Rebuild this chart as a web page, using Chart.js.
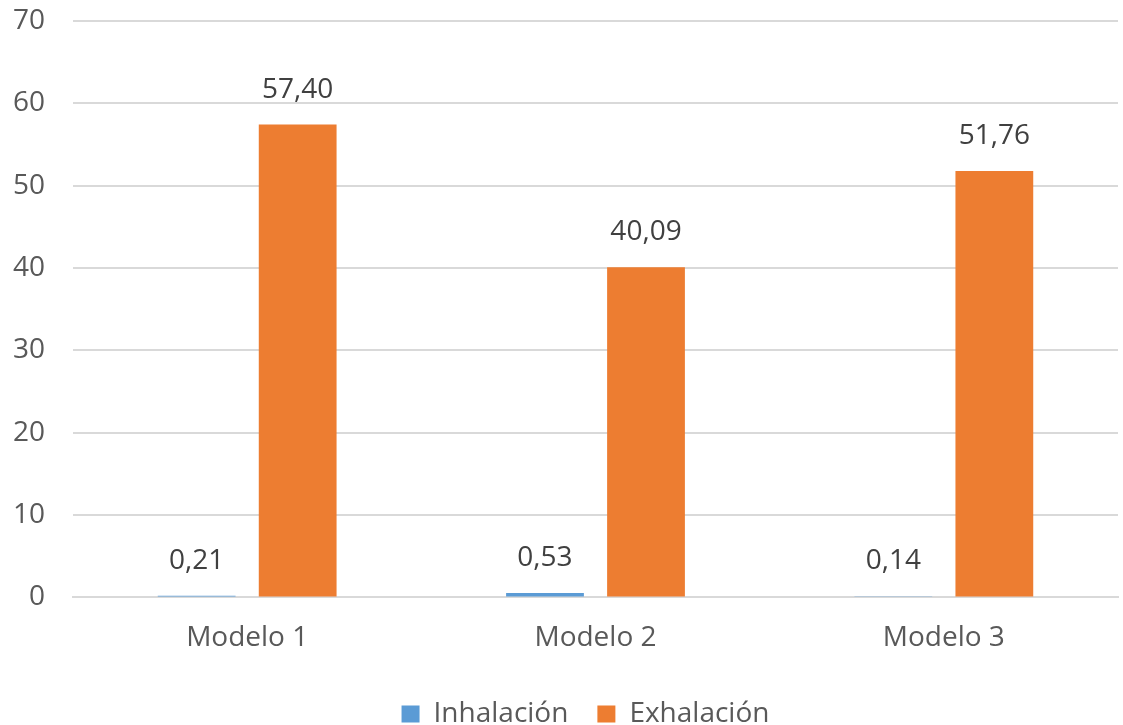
<!DOCTYPE html>
<html>
<head>
<meta charset="utf-8">
<script src="https://cdn.jsdelivr.net/npm/chart.js@4"></script>
<style>
  html, body { margin: 0; padding: 0; background: #fff; overflow: hidden; }
  /* lienzo algo más alto y subido para que la línea del 70 quede arriba */
  #wrap { width: 1123px; height: 749px; margin-top: -24px; }
</style>
</head>
<body>
<div id="wrap"><canvas id="grafico"></canvas></div>
<script>
// Datos por modelo
const modelos = ['Modelo 1', 'Modelo 2', 'Modelo 3'];
const inhalacion = [0.21, 0.53, 0.14];
const exhalacion = [57.40, 40.09, 51.76];
const ticksY = [0, 10, 20, 30, 40, 50, 60, 70];

const fuente = '"Open Sans", sans-serif';
const tamFuente = 28;

// Etiquetas de valor encima de cada barra, con coma decimal
const etiquetasValor = {
    id: 'etiquetasValor',
    afterDatasetsDraw(chart) {
        const ctx = chart.ctx;
        ctx.save();
        ctx.font = tamFuente + 'px ' + fuente;
        ctx.fillStyle = '#404040';
        ctx.textAlign = 'center';
        ctx.textBaseline = 'alphabetic';
        chart.data.datasets.forEach((ds, i) => {
            chart.getDatasetMeta(i).data.forEach((bar, j) => {
                const txt = ds.data[j].toFixed(2).replace('.', ',');
                ctx.fillText(txt, bar.x, bar.y - 27);
            });
        });
        ctx.restore();
    }
};

// Centra la leyenda bajo el área del gráfico y no bajo todo el lienzo
const leyendaCentrada = {
    id: 'leyendaCentrada',
    afterLayout(chart) {
        const l = chart.legend;
        const dx = (chart.chartArea.left + chart.chartArea.right) / 2 - (l.left + l.right) / 2 - 10;
        l.left += dx;
        l.right += dx;
    }
};

new Chart(document.getElementById('grafico'), {
    type: 'bar',
    data: {
        labels: modelos,
        datasets: [
            { label: 'Inhalación', data: inhalacion, backgroundColor: '#5b9bd5' },
            { label: 'Exhalación', data: exhalacion, backgroundColor: '#ed7d31' }
        ]
    },
    options: {
        responsive: true,
        maintainAspectRatio: false,
        animation: false,
        datasets: { bar: { categoryPercentage: 0.58, barPercentage: 0.77 } },
        layout: { autoPadding: false, padding: { top: 21, right: 5, left: 0, bottom: -13 } },
        scales: {
            x: {
                grid: { display: false },
                border: { color: '#d9d9d9', width: 2, z: -1 },
                ticks: { color: '#595959', font: { family: fuente, size: tamFuente }, padding: 16 }
            },
            y: {
                min: 0,
                max: 70,
                afterBuildTicks: (axis) => { axis.ticks = ticksY.map(v => ({ value: v })); },
                afterFit: (axis) => { axis.width = 73; },
                grid: { color: '#d9d9d9', lineWidth: 2, drawTicks: false },
                border: { display: false },
                ticks: { color: '#595959', font: { family: fuente, size: tamFuente }, padding: 28 }
            }
        },
        plugins: {
            legend: {
                position: 'bottom',
                labels: {
                    color: '#595959',
                    font: { family: fuente, size: tamFuente },
                    boxWidth: 18,
                    boxHeight: 17,
                    padding: 29
                }
            },
            tooltip: { enabled: false }
        }
    },
    plugins: [etiquetasValor, leyendaCentrada]
});
</script>
</body>
</html>
